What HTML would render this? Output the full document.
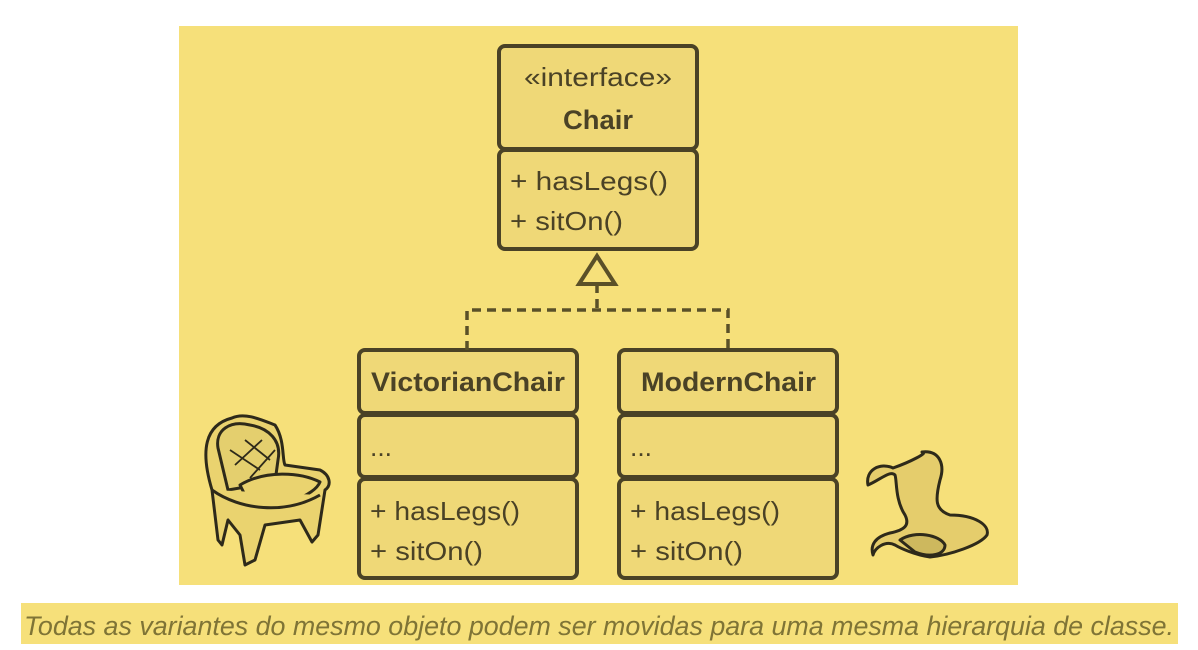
<!DOCTYPE html>
<html><head><meta charset="utf-8"><style>
html,body{margin:0;padding:0;background:#fff;}
svg{display:block;}
text{font-family:"Liberation Sans",sans-serif;fill:#4a4226;}
</style></head><body>
<svg width="1198" height="650" viewBox="0 0 1198 650" xmlns="http://www.w3.org/2000/svg">
<rect x="179" y="26" width="839" height="559" fill="#f6e07a"/>
<g stroke="#4a4226" stroke-width="4" fill="#efd877">
<rect x="499" y="46" width="198" height="103" rx="6"/>
<rect x="499" y="150" width="198" height="99" rx="6"/>
<rect x="359" y="350" width="218" height="63" rx="6"/>
<rect x="359" y="415" width="218" height="62" rx="6"/>
<rect x="359" y="479" width="218" height="99" rx="6"/>
<rect x="619" y="350" width="218" height="63" rx="6"/>
<rect x="619" y="415" width="218" height="62" rx="6"/>
<rect x="619" y="479" width="218" height="99" rx="6"/>
</g>
<g stroke="#5a5028" stroke-width="3.5" fill="none" stroke-dasharray="9,6">
<path d="M597 284 V310"/>
<path d="M467 350 V310 H728 V350"/>
</g>
<polygon points="597,256 579,284 615,284" fill="#f6e07a" stroke="#5a5028" stroke-width="4"/>
<text x="524" y="86" font-size="26" textLength="148" lengthAdjust="spacingAndGlyphs">«interface»</text>
<text x="563" y="129" font-size="27" font-weight="bold" textLength="70" lengthAdjust="spacingAndGlyphs">Chair</text>
<text x="510" y="190" font-size="26" textLength="158" lengthAdjust="spacingAndGlyphs">+ hasLegs()</text>
<text x="510" y="230" font-size="26" textLength="113" lengthAdjust="spacingAndGlyphs">+ sitOn()</text>
<text x="371" y="391" font-size="27" font-weight="bold" textLength="194" lengthAdjust="spacingAndGlyphs">VictorianChair</text>
<text x="370" y="456" font-size="26" textLength="22" lengthAdjust="spacingAndGlyphs">...</text>
<text x="370" y="520" font-size="26" textLength="150" lengthAdjust="spacingAndGlyphs">+ hasLegs()</text>
<text x="370" y="560" font-size="26" textLength="113" lengthAdjust="spacingAndGlyphs">+ sitOn()</text>
<text x="641" y="391" font-size="27" font-weight="bold" textLength="175" lengthAdjust="spacingAndGlyphs">ModernChair</text>
<text x="630" y="456" font-size="26" textLength="22" lengthAdjust="spacingAndGlyphs">...</text>
<text x="630" y="520" font-size="26" textLength="150" lengthAdjust="spacingAndGlyphs">+ hasLegs()</text>
<text x="630" y="560" font-size="26" textLength="113" lengthAdjust="spacingAndGlyphs">+ sitOn()</text>
<g stroke="#2e2a1a" stroke-width="3" fill="#ead36f" stroke-linejoin="round">
<path d="M212 490 C200 450 205 425 232 418 C245 412 262 420 275 425 C285 440 282 460 285 465 L320 470 C330 475 332 485 325 490 L318 535 L312 542 L300 520 L265 525 L255 560 L245 565 L240 535 L228 520 L222 545 L218 540 Z"/>
<path d="M218 448 C215 430 230 420 250 425 C268 428 282 440 278 460 L275 482 L228 490 Z" fill="#e4cf6e"/>
<path d="M240 485 C265 470 300 472 320 482 C315 495 280 510 250 505 Z"/>
<path d="M212 490 C240 510 285 515 320 495"/>
<path d="M230 450 L260 470 M245 440 L270 460 M235 465 L262 440 M250 478 L275 450" fill="none" stroke-width="1.8"/>
</g>
<g stroke="#2e2a1a" stroke-width="3" fill="#e5cd6c" stroke-linejoin="round">
<path d="M868 485 C865 470 880 462 893 468 C910 462 930 452 922 452 C940 450 945 465 940 480 C935 500 935 510 950 515 C975 515 990 525 987 535 C980 545 950 555 930 557 C915 555 900 548 895 545 C885 540 875 548 873 555 C870 545 875 537 890 533 C905 530 910 525 905 515 C895 500 897 480 895 475 C890 470 880 480 868 485 Z"/>
<path d="M900 540 C915 530 940 535 945 545 C945 555 930 558 915 552 Z" fill="#cdb85e"/>
</g>
<rect x="21" y="603" width="1157" height="41" fill="#f6e07a"/>
<text x="24" y="635" font-size="27" font-style="italic" style="fill:#7f7436" textLength="1150" lengthAdjust="spacingAndGlyphs">Todas as variantes do mesmo objeto podem ser movidas para uma mesma hierarquia de classe.</text>
</svg>
</body></html>
